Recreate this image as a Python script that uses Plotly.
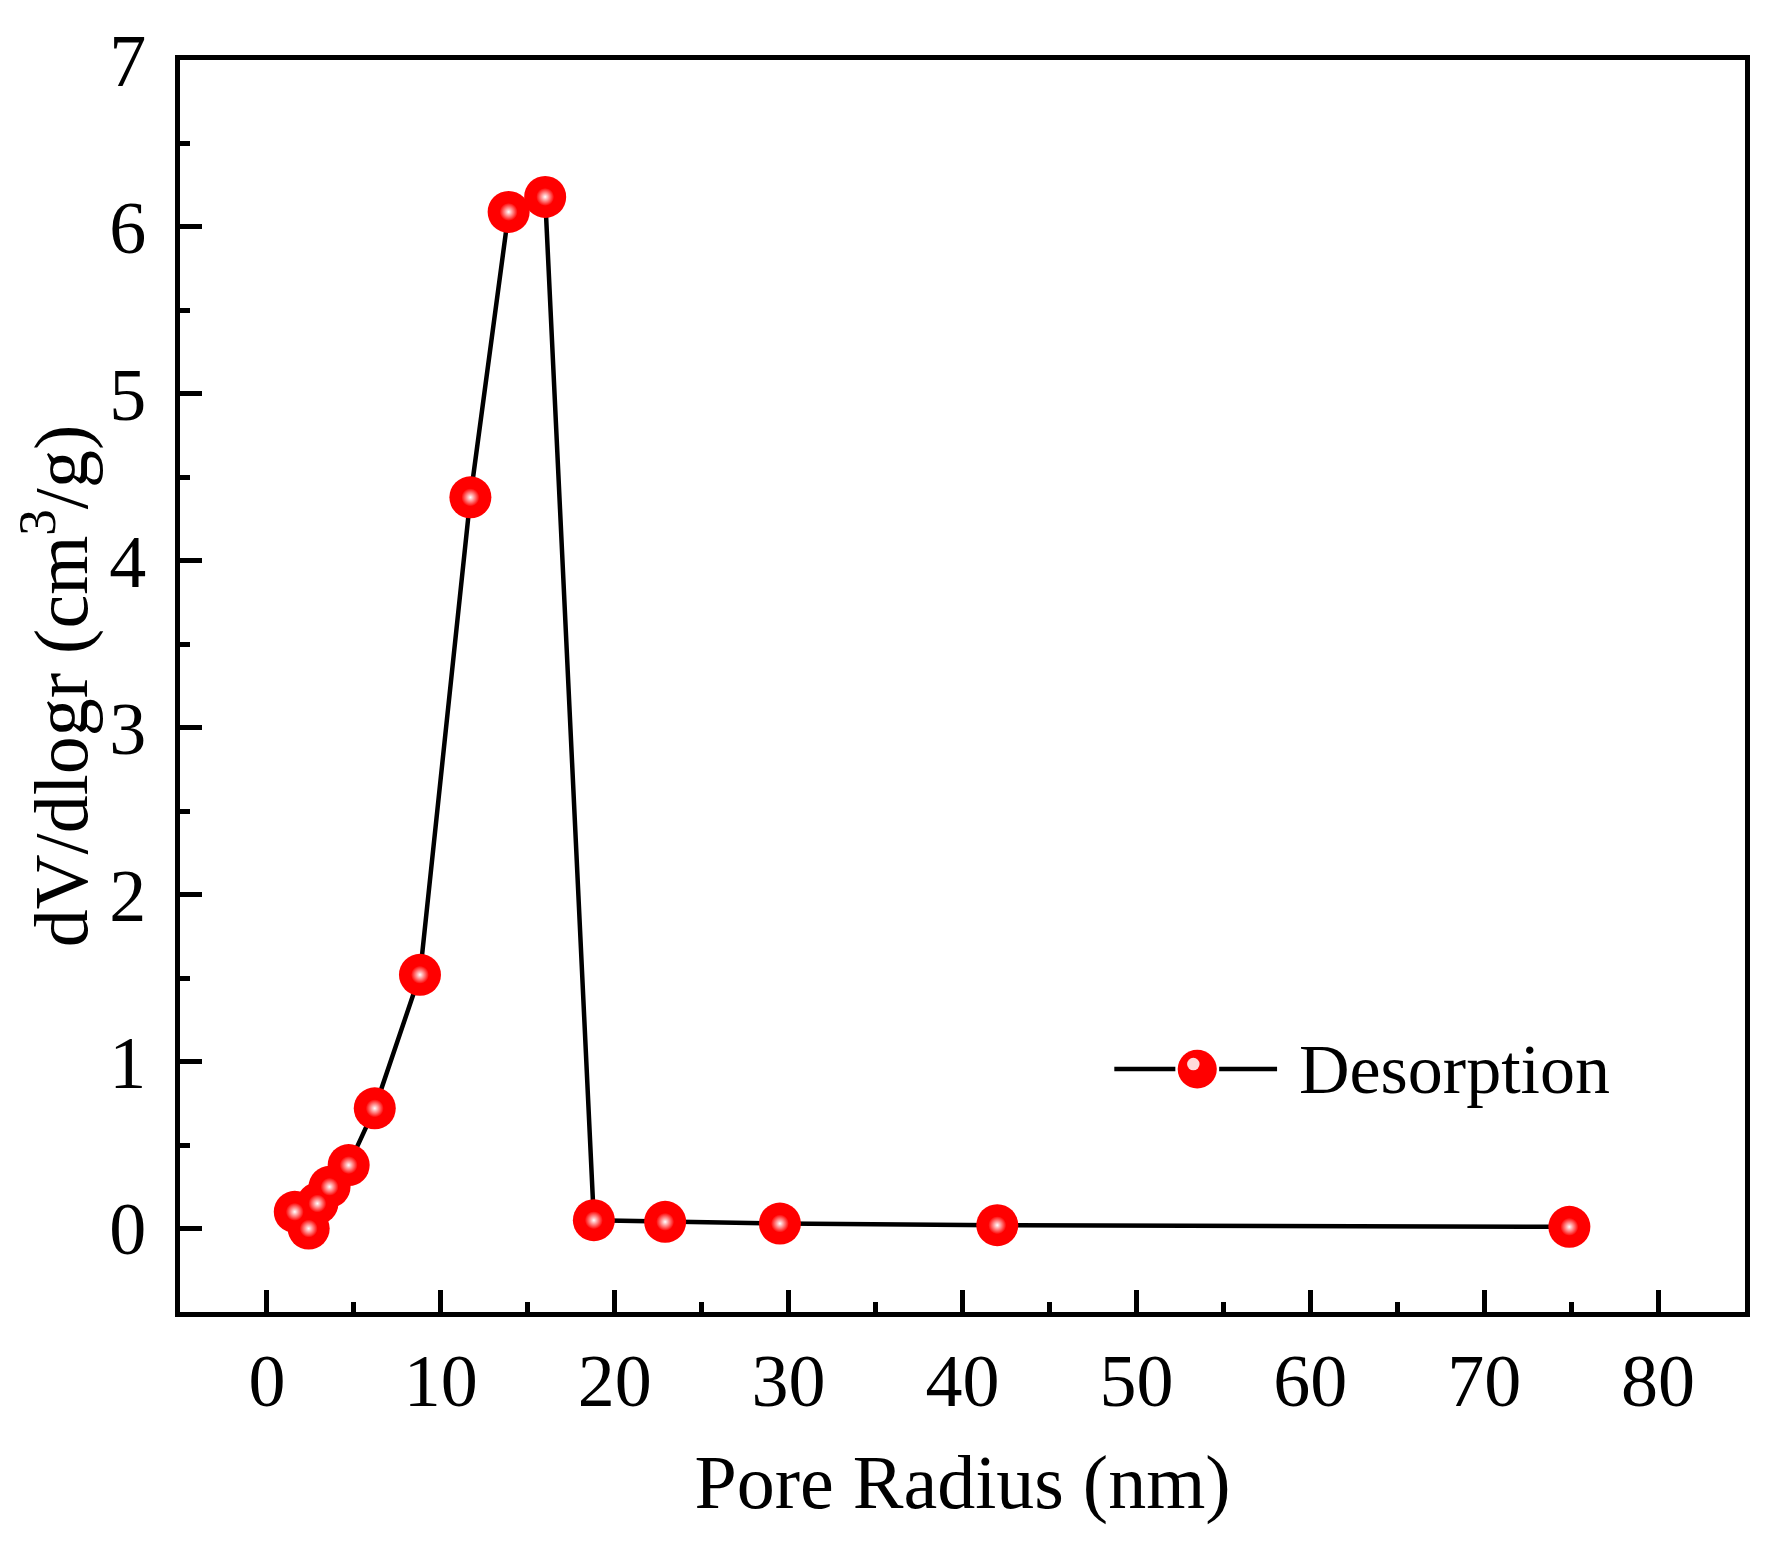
import plotly.graph_objects as go

# pore radius (nm) and dV/dlogr (cm3/g), desorption branch
pore_radius = [1.6, 2.4, 2.9, 3.6, 4.7, 6.2, 8.8, 11.7, 13.9, 16.0, 18.8, 22.9, 29.5, 42.0, 74.9]
dv_dlogr = [0.10, 0.00, 0.15, 0.25, 0.38, 0.72, 1.52, 4.38, 6.09, 6.18, 0.05, 0.04, 0.03, 0.02, 0.01]

x_ticks = [0, 10, 20, 30, 40, 50, 60, 70, 80]
y_ticks = [0, 1, 2, 3, 4, 5, 6, 7]

series_name = "Desorption"

FONT = "Liberation Serif"
RED = "#ff0000"

fig = go.Figure()

fig.add_trace(go.Scatter(
    x=pore_radius,
    y=dv_dlogr,
    mode="lines+markers",
    name=series_name,
    line=dict(color="black", width=4.5),
    marker=dict(size=42, color=RED, line=dict(width=0)),
))

# small glossy highlight on each ball
fig.add_trace(go.Scatter(
    x=pore_radius,
    y=dv_dlogr,
    mode="markers",
    hoverinfo="skip",
    marker=dict(
        size=18,
        color=RED,
        line=dict(width=0),
        gradient=dict(type="radial", color="#ffffff"),
    ),
))

axis_common = dict(
    showgrid=False,
    zeroline=False,
    showline=True,
    linecolor="black",
    linewidth=5,
    mirror=True,
    ticks="inside",
    ticklen=22,
    tickwidth=5,
    tickcolor="black",
    tickfont=dict(family=FONT, size=74, color="black"),
)

fig.update_xaxes(
    range=[-5, 85],
    tickvals=x_ticks,
    minor=dict(dtick=5, ticks="inside", ticklen=10, tickwidth=5, tickcolor="black"),
    title=dict(text="Pore Radius (nm)", font=dict(family=FONT, size=76, color="black"), standoff=36),
    **axis_common,
)

fig.update_yaxes(
    range=[-0.5, 7],
    tickvals=y_ticks,
    ticklabelstandoff=14,
    minor=dict(dtick=0.5, ticks="inside", ticklen=10, tickwidth=5, tickcolor="black"),
    title=dict(text="dV/dlogr (cm<sup>3</sup>/g)", font=dict(family=FONT, size=76, color="black"), standoff=26),
    **axis_common,
)

# legend drawn by hand so the sample line and ball match the reference size
leg_y = 0.194
shapes = [
    dict(type="line", xref="paper", yref="paper", x0=0.597, x1=0.636, y0=leg_y, y1=leg_y,
         line=dict(color="black", width=4.5)),
    dict(type="line", xref="paper", yref="paper", x0=0.664, x1=0.701, y0=leg_y, y1=leg_y,
         line=dict(color="black", width=4.5)),
    dict(type="circle", xref="paper", yref="paper", x0=0.650 - 0.0125, x1=0.650 + 0.0125,
         y0=leg_y - 0.0155, y1=leg_y + 0.0155, fillcolor=RED, line=dict(width=0)),
    dict(type="circle", xref="paper", yref="paper", x0=0.6475 - 0.004, x1=0.6475 + 0.004,
         y0=leg_y + 0.004 - 0.005, y1=leg_y + 0.004 + 0.005, fillcolor="rgba(255,255,255,0.85)",
         line=dict(width=0)),
]

fig.update_layout(
    width=1772,
    height=1549,
    margin=dict(l=172, r=35, t=48, b=245),
    paper_bgcolor="white",
    plot_bgcolor="white",
    showlegend=False,
    shapes=shapes,
    annotations=[dict(
        text=series_name, xref="paper", yref="paper", x=0.714, y=leg_y,
        xanchor="left", yanchor="middle", showarrow=False,
        font=dict(family=FONT, size=70, color="black"),
    )],
)

fig.write_html("out.html")
